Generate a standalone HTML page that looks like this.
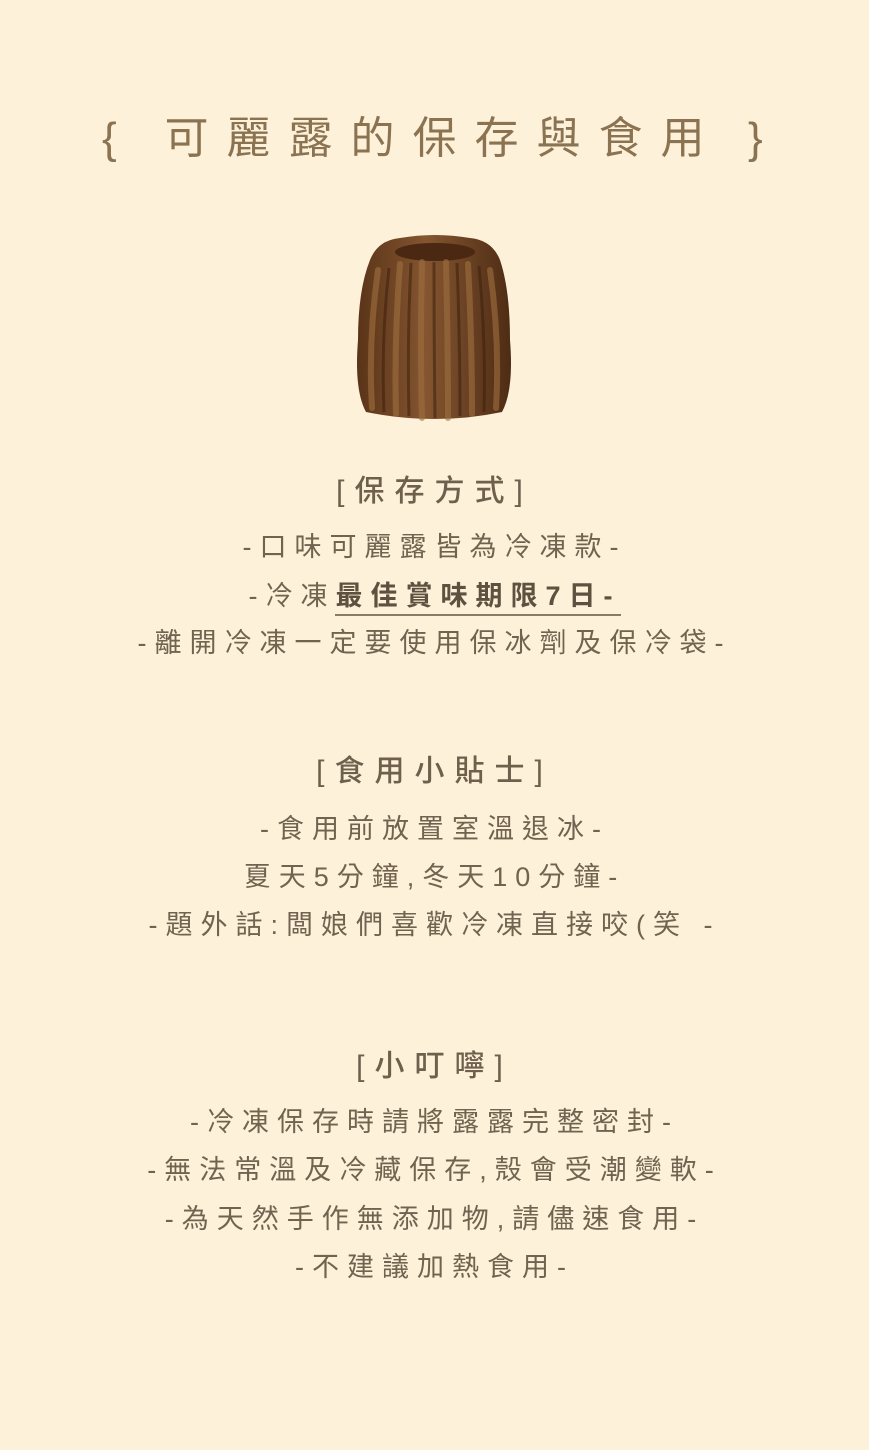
<!DOCTYPE html>
<html><head><meta charset="utf-8">
<style>
html,body{margin:0;padding:0;}
body{width:869px;height:1450px;background:#fdf1d9;position:relative;overflow:hidden;font-family:"Liberation Sans","Noto Sans CJK TC",sans-serif;color:#716350;}
.l{position:absolute;left:0;width:869px;text-align:center;white-space:nowrap;line-height:1;}
.t{font-size:44px;letter-spacing:18px;color:#8b7352;top:117px;text-indent:18px;}
.br{position:absolute;top:117px;font-size:44px;color:#8b7352;line-height:1;}
.h{font-size:30px;letter-spacing:10px;color:#6e604d;font-weight:500;}
.b{font-size:27px;letter-spacing:8px;}
.u{font-weight:bold;border-bottom:2px solid #8a7a66;padding-bottom:3px;color:#5f5140;}
</style></head><body>
<div class="br" style="left:102px">{</div>
<div class="l t">可麗露的保存與食用</div>
<div class="br" style="left:748px">}</div>
<svg style="position:absolute;left:350px;top:230px" width="170" height="195" viewBox="0 0 170 195">
<defs><linearGradient id="g" x1="0" x2="1"><stop offset="0" stop-color="#5a3418"/><stop offset="0.45" stop-color="#845530"/><stop offset="1" stop-color="#4e2c14"/></linearGradient></defs>
<path d="M20 30 Q28 10 50 8 Q85 2 120 8 Q142 10 150 30 Q160 60 160 110 Q164 160 152 182 Q85 196 16 182 Q4 160 8 110 Q8 60 20 30Z" fill="url(#g)"/>
<ellipse cx="85" cy="22" rx="40" ry="9" fill="#4a2812"/>
<g stroke="#a0703f" stroke-width="6" fill="none" opacity="0.6" stroke-linecap="round">
<path d="M28 40 Q18 110 22 178"/><path d="M50 34 Q44 110 46 184"/><path d="M72 32 Q70 110 72 188"/><path d="M96 32 Q98 110 98 188"/><path d="M118 34 Q122 110 122 184"/><path d="M140 40 Q150 110 146 178"/>
</g>
<g stroke="#3c200c" stroke-width="3" fill="none" opacity="0.55">
<path d="M39 38 Q31 110 34 182"/><path d="M61 33 Q57 110 59 186"/><path d="M84 32 Q84 110 85 188"/><path d="M107 33 Q110 110 110 186"/><path d="M129 36 Q136 110 134 182"/>
</g>
</svg>
<div class="l h" style="top:477px">[保存方式]</div>
<div class="l b" style="top:534px">-口味可麗露皆為冷凍款-</div>
<div class="l b" style="top:583px">-冷凍<span class="u">最佳賞味期限7日-</span></div>
<div class="l b" style="top:630px">-離開冷凍一定要使用保冰劑及保冷袋-</div>
<div class="l h" style="top:757px">[食用小貼士]</div>
<div class="l b" style="top:816px">-食用前放置室溫退冰-</div>
<div class="l b" style="top:864px">夏天5分鐘,冬天10分鐘-</div>
<div class="l b" style="top:912px">-題外話:闆娘們喜歡冷凍直接咬(笑 -</div>
<div class="l h" style="top:1052px">[小叮嚀]</div>
<div class="l b" style="top:1109px">-冷凍保存時請將露露完整密封-</div>
<div class="l b" style="top:1157px">-無法常溫及冷藏保存,殼會受潮變軟-</div>
<div class="l b" style="top:1206px">-為天然手作無添加物,請儘速食用-</div>
<div class="l b" style="top:1254px">-不建議加熱食用-</div>
</body></html>
